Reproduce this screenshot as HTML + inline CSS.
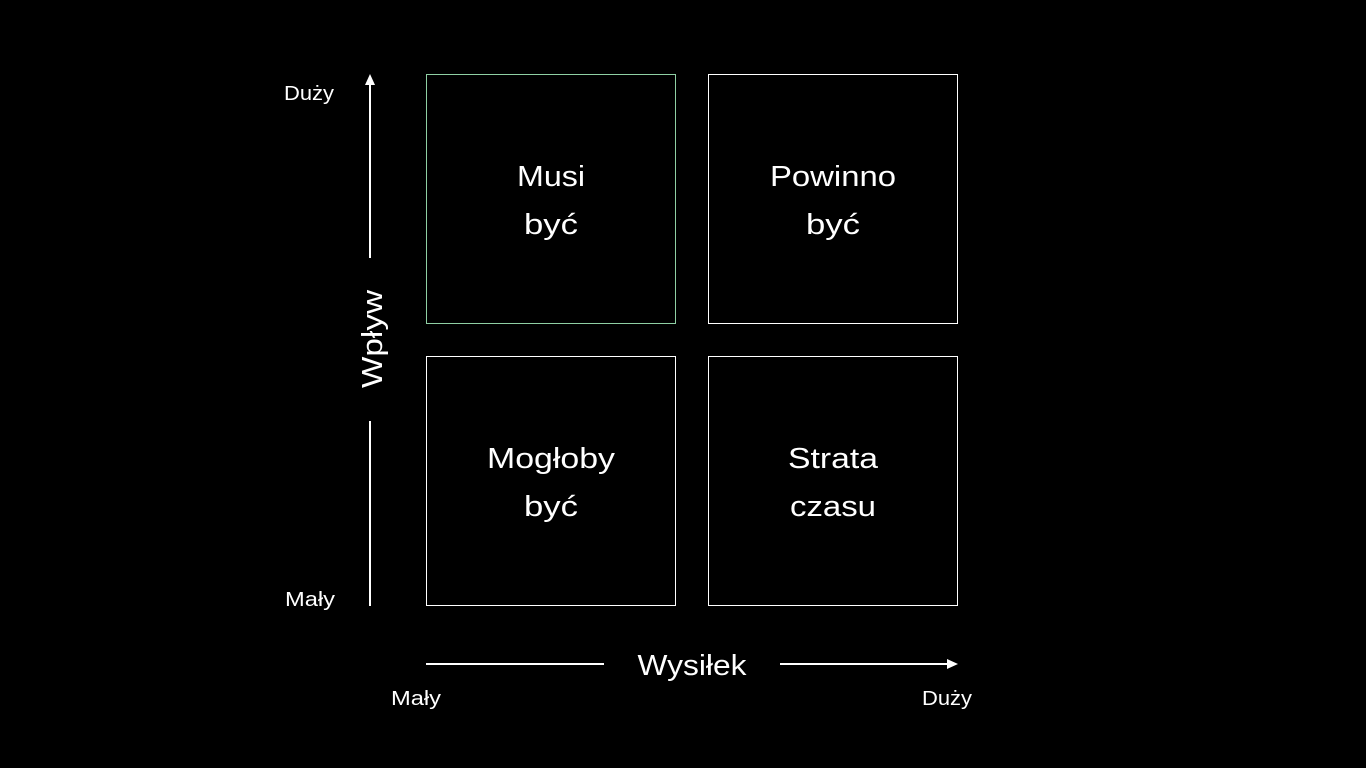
<!DOCTYPE html>
<html><head><meta charset="utf-8"><style>
html,body{margin:0;padding:0;background:#000;width:1366px;height:768px;overflow:hidden}
svg text{font-family:"Liberation Sans",sans-serif;fill:#fff}
</style></head><body>
<svg width="1366" height="768" viewBox="0 0 1366 768" xmlns="http://www.w3.org/2000/svg">
<rect width="1366" height="768" fill="#000"/>
<rect x="426.5" y="74.5" width="249" height="249" fill="none" stroke="#8fd0a4" stroke-width="1"/>
<rect x="708.5" y="74.5" width="249" height="249" fill="none" stroke="#fff" stroke-width="1"/>
<rect x="426.5" y="356.5" width="249" height="249" fill="none" stroke="#fff" stroke-width="1"/>
<rect x="708.5" y="356.5" width="249" height="249" fill="none" stroke="#fff" stroke-width="1"/>
<g font-size="29" text-anchor="middle" lengthAdjust="spacingAndGlyphs">
<text x="551" y="186" textLength="68" lengthAdjust="spacingAndGlyphs">Musi</text><text x="551" y="234" textLength="54" lengthAdjust="spacingAndGlyphs">być</text>
<text x="833" y="186" textLength="126" lengthAdjust="spacingAndGlyphs">Powinno</text><text x="833" y="234" textLength="54" lengthAdjust="spacingAndGlyphs">być</text>
<text x="551" y="468" textLength="128" lengthAdjust="spacingAndGlyphs">Mogłoby</text><text x="551" y="516" textLength="54" lengthAdjust="spacingAndGlyphs">być</text>
<text x="833" y="468" textLength="90" lengthAdjust="spacingAndGlyphs">Strata</text><text x="833" y="516" textLength="86" lengthAdjust="spacingAndGlyphs">czasu</text>
</g>
<line x1="370" y1="84" x2="370" y2="258" stroke="#fff" stroke-width="2"/>
<polygon points="370,74 365,85 375,85" fill="#fff"/>
<line x1="370" y1="421" x2="370" y2="606" stroke="#fff" stroke-width="2"/>
<text x="0" y="0" font-size="29" text-anchor="middle" textLength="98" lengthAdjust="spacingAndGlyphs" transform="translate(382,339) rotate(-90)">Wpływ</text>
<line x1="426" y1="664" x2="604" y2="664" stroke="#fff" stroke-width="2"/>
<line x1="780" y1="664" x2="948" y2="664" stroke="#fff" stroke-width="2"/>
<polygon points="958,664 947,659 947,669" fill="#fff"/>
<text x="692" y="675" font-size="29" text-anchor="middle" textLength="109" lengthAdjust="spacingAndGlyphs">Wysiłek</text>
<g font-size="20" text-anchor="middle">
<text x="309" y="100" textLength="50" lengthAdjust="spacingAndGlyphs">Duży</text>
<text x="310" y="606" textLength="50" lengthAdjust="spacingAndGlyphs">Mały</text>
<text x="416" y="705" textLength="50" lengthAdjust="spacingAndGlyphs">Mały</text>
<text x="947" y="705" textLength="50" lengthAdjust="spacingAndGlyphs">Duży</text>
</g>
</svg>
</body></html>
